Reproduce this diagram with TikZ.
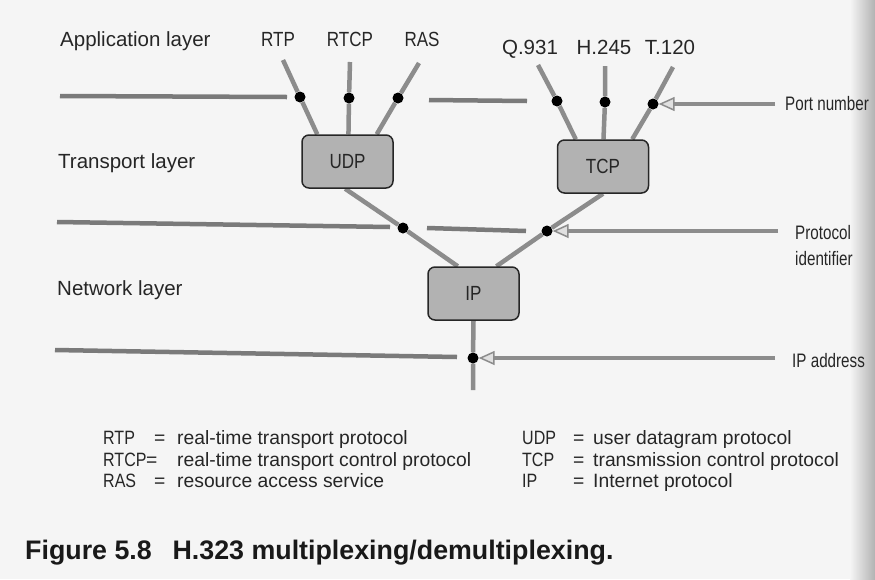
\documentclass[tikz,border=0pt]{standalone}
\usepackage{fontspec}
\setmainfont{Liberation Sans}
\newfontfamily\abbrfont[FakeStretch=0.83]{Liberation Sans}
\newfontfamily\narrowfont[FakeStretch=0.78]{Liberation Sans}
\usetikzlibrary{arrows.meta}

\begin{document}
\begin{tikzpicture}[x=1pt,y=-1pt,
	layerLine/.style={line width=4.5pt, black!52},
	link/.style={line width=4.5pt, black!45},
	pointer/.style={line width=4pt, black!45, -{Triangle[length=16pt,width=14pt,fill=black!12,line width=1.5pt]}},
	joint/.style={circle, fill=black, inner sep=0pt, minimum size=11pt},
	protoBox/.style={draw=black!85, line width=1.5pt, fill=black!30, rounded corners=7pt, minimum width=91pt, minimum height=53pt, text=black!85, font=\abbrfont\fontsize{20.5}{22}\selectfont},
	layerText/.style={anchor=base west, inner sep=0pt, text=black!85, font=\fontsize{20.5}{22}\selectfont},
	fieldText/.style={layerText, font=\narrowfont\fontsize{19.5}{22}\selectfont},
	topText/.style={anchor=base, inner sep=0pt, text=black!85, font=\fontsize{20.5}{22}\selectfont},
	topAbbr/.style={topText, font=\abbrfont\fontsize{20.5}{22}\selectfont},
	legendText/.style={anchor=base west, inner sep=0pt, text=black!85, font=\fontsize{19.3}{21}\selectfont},
	legendAbbr/.style={legendText, font=\abbrfont\fontsize{19.3}{21}\selectfont}
	]

	\pgfdeclarelayer{paper}
	\pgfdeclarelayer{background}
	\pgfsetlayers{paper,background,main}

	%page of the scan
	\begin{pgfonlayer}{paper}
		\fill[black!4] (0,0) rectangle (875,579);
		\shade[left color=black!4, right color=black!30] (850,0) rectangle (875,579);
	\end{pgfonlayer}
	\useasboundingbox (0,0) rectangle (875,579);

	%layer names
	\node[layerText] (appLayer) at (60,46) {Application layer};
	\node[layerText] (transLayer) at (58,168) {Transport layer};
	\node[layerText] (netLayer) at (57,295) {Network layer};

	%application protocols
	\node[topAbbr] (rtp) at (278,46) {RTP};
	\node[topAbbr] (rtcp) at (350,46) {RTCP};
	\node[topAbbr] (ras) at (422,46) {RAS};
	\node[topText] (q931) at (530,54) {Q.931};
	\node[topText] (h245) at (604,54) {H.245};
	\node[topText] (t120) at (670,54) {T.120};

	%free ends of the application lines
	\coordinate (rtpTop) at (283,60);
	\coordinate (rtcpTop) at (350,62);
	\coordinate (rasTop) at (419,63);
	\coordinate (q931Top) at (538,65);
	\coordinate (h245Top) at (605,66);
	\coordinate (t120Top) at (673,67);

	%transport and network boxes
	\node[protoBox] (udp) at (347.5,161.5) {UDP};
	\node[protoBox] (tcp) at (603,166.5) {TCP};
	\node[protoBox] (ip) at (473.5,293.5) {IP};

	%demultiplexing points
	\node[joint] (rtpDot) at (300,97) {};
	\node[joint] (rtcpDot) at (349,98) {};
	\node[joint] (rasDot) at (398,98) {};
	\node[joint] (q931Dot) at (557,101) {};
	\node[joint] (h245Dot) at (605,102) {};
	\node[joint] (t120Dot) at (653,104) {};
	\node[joint] (udpIpDot) at (403,228) {};
	\node[joint] (tcpIpDot) at (547,231) {};
	\node[joint] (ipDot) at (473,358) {};
	\coordinate (ipBottom) at (473,390);

	%field names on the right
	\node[fieldText] (portNum) at (785,110) {Port number};
	\node[fieldText] (protoId) at (795,239) {Protocol};
	\node[fieldText] (protoIdTwo) at (795,265) {identifier};
	\node[fieldText] (ipAddr) at (792,367) {IP address};
	\coordinate (portTail) at (775,104);
	\coordinate (protoTail) at (778,231);
	\coordinate (ipTail) at (775,358);

	\begin{pgfonlayer}{background}
		%layer boundaries
		\draw[layerLine] (60,96) -- (287,97);
		\draw[layerLine] (429,100) -- (527,101);
		\draw[layerLine] (57,222) -- (390,227);
		\draw[layerLine] (427,228) -- (526,231);
		\draw[layerLine] (55,350) -- (457,357);
		%application to transport
		\draw[link] (rtpTop) -- (rtpDot) -- (udp.138);
		\draw[link] (rtcpTop) -- (rtcpDot) -- (udp.88);
		\draw[link] (rasTop) -- (rasDot) -- (udp.43);
		\draw[link] (q931Top) -- (q931Dot) -- (tcp.135);
		\draw[link] (h245Top) -- (h245Dot) -- (tcp.89);
		\draw[link] (t120Top) -- (t120Dot) -- (tcp.43);
		%transport to network
		\draw[link] (udp.265) -- (udpIpDot) -- (ip.120);
		\draw[link] (tcp.270) -- (tcpIpDot) -- (ip.50);
		\draw[link] (ip.south) -- (ipDot) -- (ipBottom);
	\end{pgfonlayer}

	%pointers to the fields
	\draw[pointer] (portTail) -- (t120Dot);
	\draw[pointer] (protoTail) -- (tcpIpDot);
	\draw[pointer] (ipTail) -- (ipDot);

	%legend, left column
	\node[legendAbbr] (rtpKey) at (103,444) {RTP};
	\node[legendText] (rtpEq) at (154,444) {=};
	\node[legendText] (rtpVal) at (177,444) {real-time transport protocol};
	\node[legendAbbr] (rtcpKey) at (103,466) {RTCP};
	\node[legendText] (rtcpEq) at (146,466) {=};
	\node[legendText] (rtcpVal) at (177,466) {real-time transport control protocol};
	\node[legendAbbr] (rasKey) at (103,487) {RAS};
	\node[legendText] (rasEq) at (154,487) {=};
	\node[legendText] (rasVal) at (177,487) {resource access service};
	%legend, right column
	\node[legendAbbr] (udpKey) at (522,444) {UDP};
	\node[legendText] (udpEq) at (573,444) {=};
	\node[legendText] (udpVal) at (593,444) {user datagram protocol};
	\node[legendAbbr] (tcpKey) at (522,466) {TCP};
	\node[legendText] (tcpEq) at (573,466) {=};
	\node[legendText] (tcpVal) at (593,466) {transmission control protocol};
	\node[legendAbbr] (ipKey) at (522,487) {IP};
	\node[legendText] (ipEq) at (573,487) {=};
	\node[legendText] (ipVal) at (593,487) {Internet protocol};

	%caption
	\node[anchor=base west, inner sep=0pt, text=black!90, font=\bfseries\fontsize{26.8}{30}\selectfont] (caption) at (25,559) {Figure 5.8\hspace{0.5em} H.323 multiplexing/demultiplexing.};

\end{tikzpicture}
\end{document}
